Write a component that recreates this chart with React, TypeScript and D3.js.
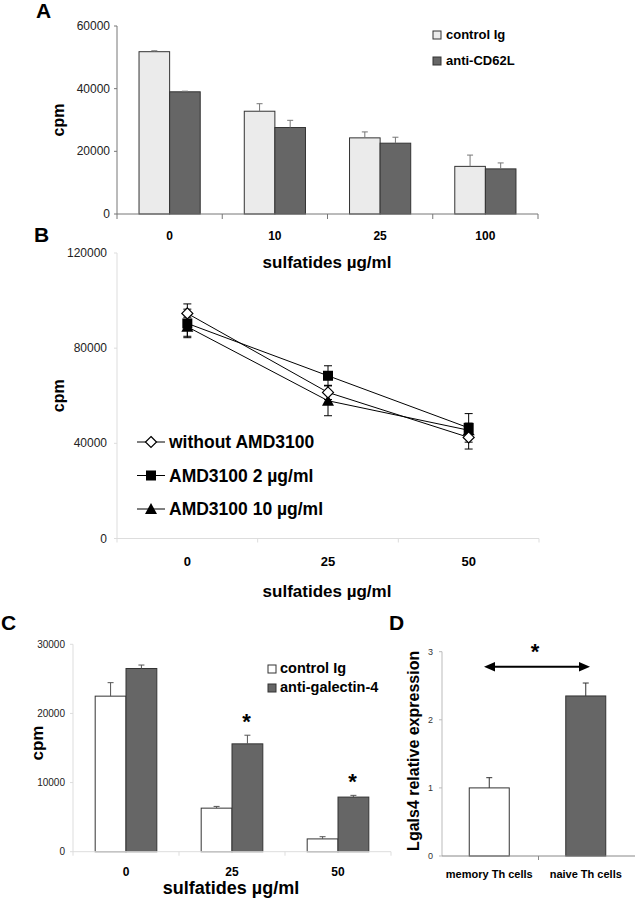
import * as d3 from "d3";
import React from "react";

const W = 635;
const H = 900;
const FONT = "'Liberation Sans', Arial, sans-serif";

// panel A
const aCats = ["0", "10", "25", "100"];
const aSeries = ["control Ig", "anti-CD62L"];
const aControl = [51800, 32800, 24300, 15200];
const aControlErr = [300, 2400, 1900, 3600];
const aAnti = [39000, 27600, 22600, 14400];
const aAntiErr = [200, 2300, 1900, 1900];
const aTicks = [0, 20000, 40000, 60000];

// panel B
const bCats = ["0", "25", "50"];
const bTicks = [0, 40000, 80000, 120000];
const bWithout = [94600, 61400, 42500];
const bWithoutErr = [4000, 3000, 4900];
const bAmd2 = [90400, 68400, 46500];
const bAmd2Err = [6000, 4200, 6000];
const bAmd10 = [89000, 57900, 45500];
const bAmd10Err = [4000, 6300, 3000];
const bSeries = ["without AMD3100", "AMD3100 2 µg/ml", "AMD3100 10 µg/ml"];

// panel C
const cCats = ["0", "25", "50"];
const cSeries = ["control Ig", "anti-galectin-4"];
const cControl = [22500, 6300, 1850];
const cControlErr = [1950, 250, 320];
const cAnti = [26500, 15600, 7900];
const cAntiErr = [500, 1250, 250];
const cStars = [false, true, true];
const cTicks = [0, 10000, 20000, 30000];

// panel D
const dCats = ["memory Th cells", "naive Th cells"];
const dValues = [1.0, 2.35];
const dErr = [0.15, 0.19];
const dTicks = [0, 1, 2, 3];

const DARK = "#666666";

function GroupedBars({ cats, series, vals, errs, fills, x0, y, errColor }) {
  const x1 = d3.scaleBand().domain(series).range([0, x0.bandwidth()]).paddingOuter(0.72);
  return (
    <g>
      {cats.map((c, i) => (
        <g key={c} transform={`translate(${x0(c)},0)`}>
          {series.map((s, j) => {
            const v = vals[j][i];
            const e = errs[j][i];
            const bx = x1(s);
            const cx = bx + x1.bandwidth() / 2;
            return (
              <g key={s}>
                <rect x={bx} y={y(v)} width={x1.bandwidth()} height={y(0) - y(v)}
                  fill={fills[j]} stroke="#333" strokeWidth={1} />
                <line x1={cx} x2={cx} y1={y(v)} y2={y(v + e)} stroke={errColor} />
                <line x1={cx - 3} x2={cx + 3} y1={y(v + e)} y2={y(v + e)} stroke={errColor} />
              </g>
            );
          })}
        </g>
      ))}
    </g>
  );
}

function PanelA() {
  const x0 = d3.scaleBand().domain(aCats).range([117, 538]);
  const y = d3.scaleLinear().domain([0, 60000]).range([214, 26]);
  const bounds = [117, ...aCats.map((c) => x0(c) + x0.bandwidth())];
  return (
    <g>
      <text x={36} y={18} fontSize={21} fontWeight="bold">A</text>
      <GroupedBars cats={aCats} series={aSeries} vals={[aControl, aAnti]} errs={[aControlErr, aAntiErr]}
        fills={["#ebebeb", DARK]} x0={x0} y={y} errColor="#777" />
      <line x1={117} x2={117} y1={y(60000)} y2={y(0)} stroke="#777" />
      <line x1={117} x2={538} y1={y(0)} y2={y(0)} stroke="#777" />
      {aTicks.map((t) => (
        <g key={t}>
          <line x1={114} x2={117} y1={y(t)} y2={y(t)} stroke="#777" />
          <text x={110} y={y(t) + 4} textAnchor="end" fontSize={12} fill="#222">{t}</text>
        </g>
      ))}
      {bounds.map((b) => (
        <line key={b} x1={b} x2={b} y1={y(0)} y2={y(0) + 5} stroke="#777" />
      ))}
      {aCats.map((c) => (
        <text key={c} x={x0(c) + x0.bandwidth() / 2} y={240} textAnchor="middle" fontSize={12} fontWeight="bold">{c}</text>
      ))}
      <text transform={`translate(64,${y(30000)}) rotate(-90)`} textAnchor="middle" fontSize={16} fontWeight="bold">cpm</text>
      <text x={327} y={268} textAnchor="middle" fontSize={17} fontWeight="bold">sulfatides µg/ml</text>
      {aSeries.map((s, i) => (
        <g key={s}>
          <rect x={433} y={31 + i * 26} width={8} height={8} fill={i === 0 ? "#ebebeb" : DARK} stroke="#333" />
          <text x={446} y={39 + i * 26} fontSize={13} fontWeight="bold">{s}</text>
        </g>
      ))}
    </g>
  );
}

function Marker({ kind, x, y }) {
  if (kind === 0) {
    const r = 5.5;
    return <path d={`M${x},${y - r}L${x + r},${y}L${x},${y + r}L${x - r},${y}Z`} fill="#fff" stroke="#000" strokeWidth={1.2} />;
  }
  if (kind === 1) {
    return <rect x={x - 5} y={y - 5} width={10} height={10} fill="#000" />;
  }
  return <path d={`M${x},${y - 6}L${x + 6},${y + 5}L${x - 6},${y + 5}Z`} fill="#000" />;
}

function PanelB() {
  const x = d3.scalePoint().domain(bCats).range([117, 539]).padding(0.5);
  const y = d3.scaleLinear().domain([0, 120000]).range([538.5, 253]);
  const step = x.step();
  const bounds = [117, ...bCats.map((c) => x(c) + step / 2)];
  const vals = [bWithout, bAmd2, bAmd10];
  const errs = [bWithoutErr, bAmd2Err, bAmd10Err];
  const line = d3.line().x((d) => d[0]).y((d) => d[1]);
  const order = [2, 1, 0];
  return (
    <g>
      <text x={34} y={242} fontSize={21} fontWeight="bold">B</text>
      <line x1={117} x2={117} y1={y(120000)} y2={y(0)} stroke="#ddd" />
      <line x1={117} x2={539} y1={y(0)} y2={y(0)} stroke="#ddd" />
      {bTicks.map((t) => (
        <g key={t}>
          <line x1={114} x2={117} y1={y(t)} y2={y(t)} stroke="#ddd" />
          <text x={107} y={y(t) + 4} textAnchor="end" fontSize={12} fill="#222">{t}</text>
        </g>
      ))}
      {bounds.map((b) => (
        <line key={b} x1={b} x2={b} y1={y(0)} y2={y(0) + 4} stroke="#ddd" />
      ))}
      {bCats.map((c) => (
        <text key={c} x={x(c)} y={566} textAnchor="middle" fontSize={13} fontWeight="bold">{c}</text>
      ))}
      <text transform={`translate(64,${y(60000)}) rotate(-90)`} textAnchor="middle" fontSize={16} fontWeight="bold">cpm</text>
      <text x={327} y={597} textAnchor="middle" fontSize={17} fontWeight="bold">sulfatides µg/ml</text>
      {order.map((k) => (
        <path key={"l" + k} d={line(bCats.map((c, i) => [x(c), y(vals[k][i])]))} fill="none" stroke="#000" strokeWidth={1} />
      ))}
      {order.map((k) => (
        <g key={"e" + k}>
          {bCats.map((c, i) => {
            const v = vals[k][i];
            const e = errs[k][i];
            const cx = x(c);
            return (
              <g key={c}>
                <line x1={cx} x2={cx} y1={y(v - e)} y2={y(v + e)} stroke="#000" />
                <line x1={cx - 4} x2={cx + 4} y1={y(v + e)} y2={y(v + e)} stroke="#000" />
                <line x1={cx - 4} x2={cx + 4} y1={y(v - e)} y2={y(v - e)} stroke="#000" />
              </g>
            );
          })}
        </g>
      ))}
      {order.map((k) => (
        <g key={"m" + k}>
          {bCats.map((c, i) => (
            <Marker key={c} kind={k} x={x(c)} y={y(vals[k][i])} />
          ))}
        </g>
      ))}
      {bSeries.map((s, i) => {
        const ly = 442 + i * 33.5;
        return (
          <g key={s}>
            <line x1={137} x2={165} y1={ly} y2={ly} stroke="#000" />
            <Marker kind={i} x={151} y={ly} />
            <text x={169} y={ly + 6} fontSize={17.5} fontWeight="bold">{s}</text>
          </g>
        );
      })}
    </g>
  );
}

function PanelC() {
  const x0 = d3.scaleBand().domain(cCats).range([73, 391]);
  const y = d3.scaleLinear().domain([0, 30000]).range([851.7, 644.3]);
  const x1 = d3.scaleBand().domain(cSeries).range([0, x0.bandwidth()]).paddingOuter(0.72);
  const bounds = [73, ...cCats.map((c) => x0(c) + x0.bandwidth())];
  return (
    <g>
      <text x={1} y={630} fontSize={21} fontWeight="bold">C</text>
      <GroupedBars cats={cCats} series={cSeries} vals={[cControl, cAnti]} errs={[cControlErr, cAntiErr]}
        fills={["#fff", DARK]} x0={x0} y={y} errColor="#555" />
      <line x1={73} x2={73} y1={y(30000)} y2={y(0)} stroke="#ddd" />
      <line x1={73} x2={391} y1={y(0)} y2={y(0)} stroke="#ddd" />
      {cTicks.map((t) => (
        <g key={t}>
          <line x1={70} x2={73} y1={y(t)} y2={y(t)} stroke="#ddd" />
          <text x={65} y={y(t) + 3.5} textAnchor="end" fontSize={10} fill="#222">{t}</text>
        </g>
      ))}
      {bounds.map((b) => (
        <line key={b} x1={b} x2={b} y1={y(0)} y2={y(0) + 4} stroke="#ddd" />
      ))}
      {cCats.map((c, i) => (
        <g key={c}>
          <text x={x0(c) + x0.bandwidth() / 2} y={876} textAnchor="middle" fontSize={12} fontWeight="bold">{c}</text>
          {cStars[i] && (
            <text x={x0(c) + x1("anti-galectin-4") + x1.bandwidth() / 2 - 1}
              y={y(cAnti[i] + cAntiErr[i]) - 6} textAnchor="middle" fontSize={22} fontWeight="bold">*</text>
          )}
        </g>
      ))}
      <text transform={`translate(43,${y(15000) - 5}) rotate(-90)`} textAnchor="middle" fontSize={17} fontWeight="bold">cpm</text>
      <text x={231} y={894} textAnchor="middle" fontSize={18} fontWeight="bold">sulfatides µg/ml</text>
      {cSeries.map((s, i) => (
        <g key={s}>
          <rect x={268} y={665 + i * 19} width={8} height={8} fill={i === 0 ? "#fff" : DARK} stroke="#333" />
          <text x={280} y={673 + i * 19} fontSize={14.5} fontWeight="bold">{s}</text>
        </g>
      ))}
    </g>
  );
}

function PanelD() {
  const x = d3.scaleBand().domain(dCats).range([442, 635]);
  const y = d3.scaleLinear().domain([0, 3]).range([856, 651.7]);
  const bw = 40;
  return (
    <g>
      <text x={389} y={630} fontSize={21} fontWeight="bold">D</text>
      {dCats.map((c, i) => {
        const cx = x(c) + x.bandwidth() / 2 - 1;
        const v = dValues[i];
        const e = dErr[i];
        return (
          <g key={c}>
            <rect x={cx - bw / 2} y={y(v)} width={bw} height={y(0) - y(v)} fill={i === 0 ? "#fff" : DARK} stroke="#333" />
            <line x1={cx} x2={cx} y1={y(v)} y2={y(v + e)} stroke="#333" />
            <line x1={cx - 3} x2={cx + 3} y1={y(v + e)} y2={y(v + e)} stroke="#333" />
            <text x={cx} y={878} textAnchor="middle" fontSize={11} fontWeight="bold">{c}</text>
          </g>
        );
      })}
      <line x1={442} x2={442} y1={y(3)} y2={y(0)} stroke="#bbb" />
      <line x1={442} x2={635} y1={y(0)} y2={y(0)} stroke="#888" />
      <line x1={x(dCats[1])} x2={x(dCats[1])} y1={y(0)} y2={y(0) + 4} stroke="#888" />
      {dTicks.map((t) => (
        <g key={t}>
          <line x1={439} x2={442} y1={y(t)} y2={y(t)} stroke="#bbb" />
          <text x={433} y={y(t) + 3} textAnchor="end" fontSize={9} fill="#333">{t}</text>
        </g>
      ))}
      <line x1={491} x2={583} y1={666.7} y2={666.7} stroke="#000" strokeWidth={2} />
      <path d="M484,666.7L495,662L495,671.4Z" fill="#000" />
      <path d="M590,666.7L579,662L579,671.4Z" fill="#000" />
      <text x={535} y={659} textAnchor="middle" fontSize={22} fontWeight="bold">*</text>
      <text transform={`translate(419,${y(1.5) - 3}) rotate(-90)`} textAnchor="middle" fontSize={16} fontWeight="bold">Lgals4 relative expression</text>
    </g>
  );
}

export default function App() {
  return (
    <svg width={W} height={H} style={{ position: "absolute", left: 0, top: 0, background: "#fff" }}
      fontFamily={FONT}>
      <rect width={W} height={H} fill="#fff" />
      <PanelA />
      <PanelB />
      <PanelC />
      <PanelD />
    </svg>
  );
}
